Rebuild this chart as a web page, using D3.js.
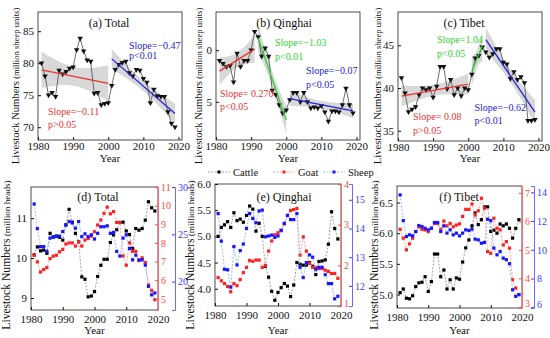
<!DOCTYPE html>
<html>
<head>
<meta charset="utf-8">
<script src="https://cdn.jsdelivr.net/npm/d3@7/dist/d3.min.js"></script>
<style>
body{margin:0;background:#fff;}
#svg{display:block;font-family:"Liberation Serif","Times New Roman",serif;}
</style>
</head>
<body>
<svg id="svg" width="550" height="338"></svg>
<script>
var years = d3.range(1981, 2020);
var yearTicks = [1980, 1990, 2000, 2010, 2020];

// (a)-(c) livestock, million sheep units
var totalSU = [80.0,78.0,75.0,75.4,74.8,78.9,78.3,78.7,79.2,79.4,82.1,83.9,81.9,80.5,80.3,75.3,75.4,73.5,73.7,73.8,
	76.5,79.0,79.8,80.1,80.3,78.5,78.0,79.0,78.9,77.6,77.0,73.8,75.9,74.9,74.8,74.8,72.4,70.6,70.0];
var qinghaiSU = [39.0,38.7,38.4,38.5,36.9,39.7,38.4,39.0,39.0,40.0,41.8,41.3,39.4,40.2,39.4,36.1,35.7,34.7,33.9,34.2,
	35.2,35.9,35.9,35.0,35.9,35.0,34.4,34.5,34.4,34.6,34.0,33.1,34.1,34.1,34.0,34.7,36.3,34.7,33.9];
var tibetSU = [41.2,39.4,37.2,37.5,37.8,39.2,40.0,39.8,40.0,38.9,40.2,42.5,42.5,39.9,41.0,39.2,40.0,39.1,40.0,39.8,
	41.6,43.5,43.8,44.8,44.2,43.6,44.0,44.6,44.6,43.0,42.8,41.1,41.9,41.0,41.3,40.6,36.2,36.2,36.3];

// fitted periods [first year, last year] and their labels
var periodsA = [[1981, 2000], [2001, 2019]];
var periodsB = [[1981, 1991], [1992, 2000], [2001, 2019]];
var periodsC = [[1981, 2000], [2001, 2004], [2005, 2019]];
var slopeA = [["Slope=\u22120.11", "p>0.05"], ["Slope=\u22120.47", "p<0.01"]];
var slopeB = [["Slope= 0.270", "p<0.05"], ["Slope=\u22121.03", "p<0.01"], ["Slope=\u22120.07", "p<0.05"]];
var slopeC = [["Slope= 0.08", "p>0.05"], ["Slope=1.04", "p<0.05"], ["Slope=\u22120.62", "p<0.01"]];

// (d)-(f) million heads
var species = ["Cattle", "Goat", "Sheep"];
var cattleTotal = [10.08,10.28,10.18,10.2,10.12,10.62,10.53,10.55,10.52,10.45,10.83,11.22,10.9,10.62,10.41,9.53,9.47,9.03,9.05,9.16,
	9.54,9.82,9.97,9.97,10.39,10.58,10.71,10.89,10.9,10.68,10.59,10.24,10.74,10.7,10.74,10.95,11.41,11.26,11.18];
var goatTotal = [7.34,6.98,6.44,6.57,6.68,7.16,7.29,7.34,7.52,7.65,7.94,8.0,8.0,7.83,8.06,7.83,8.15,8.24,8.37,8.6,
	8.96,9.23,9.59,9.92,9.56,9.68,9.1,9.1,7.3,6.8,8.0,7.55,7.55,7.05,7.2,6.95,5.75,5.45,4.95];
var sheepTotal = [28.2,25.6,23.7,23.7,23.2,24.6,24.7,24.8,24.8,25.3,26.0,26.35,26.2,25.65,26.35,24.75,25.05,24.75,24.95,24.5,
	25.1,25.8,25.8,25.9,25.1,25.2,23.2,22.7,24.6,24.95,23.5,22.3,22.8,22.3,22.3,21.75,19.5,18.6,18.8];
var cattleQH = [5.0,5.17,5.22,5.28,5.17,5.45,5.3,5.33,5.27,5.4,5.58,5.52,5.1,5.25,5.0,4.43,4.22,3.95,3.78,3.93,
	4.02,4.1,4.05,3.85,4.07,4.5,4.47,4.45,4.45,4.5,4.43,4.27,4.52,4.53,4.55,4.85,5.47,5.15,4.95];
var goatQH = [1.7,1.62,1.55,1.48,1.35,1.55,1.5,1.65,1.82,1.95,2.12,2.1,2.13,2.13,1.95,2.0,2.35,2.6,2.75,2.8,
	2.85,3.02,3.22,3.35,3.37,3.4,2.25,2.7,2.35,2.05,1.95,1.95,1.92,1.92,1.88,1.85,1.8,1.8,1.68];
var sheepQH = [14.52,13.56,12.58,12.56,11.96,13.37,12.73,13.23,13.46,14.0,14.52,14.35,14.2,14.61,14.64,13.71,13.74,13.77,13.69,13.74,
	13.94,14.18,14.46,14.31,14.31,14.52,12.65,12.29,12.81,13.08,13.0,12.58,12.65,12.65,12.39,12.08,12.08,11.55,11.64];
var cattleTB = [5.03,5.09,4.94,4.93,4.98,5.13,5.19,5.2,5.29,5.05,5.21,5.66,5.66,5.29,5.4,5.09,5.24,5.09,5.27,5.25,
	5.53,5.76,5.89,6.12,6.33,6.14,6.22,6.43,6.43,6.03,6.05,6.0,6.15,6.12,6.15,6.08,5.92,6.08,6.22];
var goatTB = [5.72,5.41,5.0,5.21,5.41,5.64,5.81,5.72,5.7,5.64,5.76,5.93,5.93,5.72,6.01,5.84,5.93,5.81,5.87,5.91,
	6.17,6.42,6.42,6.61,6.22,6.37,6.81,6.46,4.94,4.88,6.11,5.76,5.7,5.17,5.29,5.06,3.95,3.66,3.43];
var sheepTB = [13.82,12.03,10.92,11.04,10.97,11.27,11.69,11.62,11.5,11.39,11.5,11.9,11.9,11.27,11.67,11.16,11.39,11.04,11.16,10.97,
	11.16,11.39,11.34,11.44,10.74,10.69,10.46,10.51,12.13,12.03,10.12,9.65,9.88,9.42,9.31,9.03,7.22,6.76,6.88];

// two-sided 95% t values by degrees of freedom
var tCrit = {2: 4.303, 7: 2.365, 9: 2.262, 13: 2.160, 17: 2.110, 18: 2.101};

var svg = d3.select("#svg");
var RED = "#ec3232", GREEN = "#2fd12f", BLUE = "#2323d8";
var lineCols = ["#8a8a8a", "#ff8c8c", "#86a8ff"], dotCols = ["#000", "#ff2020", "#1515ff"];

function fit(xs, ys){
	var n = xs.length, mx = d3.mean(xs), my = d3.mean(ys);
	var sxx = d3.sum(xs, function(x){ return (x-mx)*(x-mx); });
	var sxy = d3.sum(xs, function(x,i){ return (x-mx)*(ys[i]-my); });
	var b = sxy/sxx, a = my - b*mx;
	var sse = d3.sum(xs, function(x,i){ var r = ys[i]-(a+b*x); return r*r; });
	var s = Math.sqrt(sse/(n-2)), t = tCrit[n-2];
	return {
		at: function(x){ return a + b*x; },
		half: function(x){ return t*s*Math.sqrt(1/n + (x-mx)*(x-mx)/sxx); }
	};
}

function styleAxis(a, size, col){
	a.attr("font-family", null).attr("font-size", size);
	a.selectAll("text").attr("fill", col || "#111");
	a.selectAll("line").attr("stroke", col || "#111");
}

function yTitle(x, y, unit, big, small){
	var t = svg.append("text").attr("transform", "translate("+x+","+y+") rotate(-90)")
		.attr("text-anchor", "middle").attr("fill", "#111");
	t.append("tspan").attr("font-size", big).text("Livestock Numbers");
	t.append("tspan").attr("font-size", small).text(" ("+unit+")");
}

function trendPanel(id, p){
	var g = svg.append("g");
	var x = d3.scaleLinear().domain([1980, 2021]).range([p.x0, p.x1]);
	var y = d3.scaleLinear().domain(p.yDom).range([p.y1, p.y0]);
	g.append("clipPath").attr("id", id).append("rect")
		.attr("x", p.x0).attr("y", p.y0).attr("width", p.x1-p.x0).attr("height", p.y1-p.y0);
	var plot = g.append("g").attr("clip-path", "url(#"+id+")");

	var fits = p.periods.map(function(per){
		var xs = years.filter(function(yr){ return yr >= per[0] && yr <= per[1]; });
		var ys = xs.map(function(yr){ return p.values[years.indexOf(yr)]; });
		return fit(xs, ys);
	});
	p.periods.forEach(function(per, k){
		var f = fits[k], grid = d3.range(per[0], per[1]+0.001, 0.25);
		plot.append("path").datum(grid).attr("fill", "#d8d8d8")
			.attr("d", d3.area().x(function(d){ return x(d); })
				.y0(function(d){ return y(f.at(d)-f.half(d)); })
				.y1(function(d){ return y(f.at(d)+f.half(d)); }));
	});
	plot.append("path").datum(p.values).attr("fill", "none").attr("stroke", "#4a4a4a").attr("stroke-width", 0.8)
		.attr("d", d3.line().x(function(d,i){ return x(years[i]); }).y(function(d){ return y(d); }));
	plot.selectAll(".tri").data(p.values).enter().append("path")
		.attr("d", d3.symbol().type(d3.symbolTriangle).size(13))
		.attr("transform", function(d,i){ return "translate("+x(years[i])+","+y(d)+") rotate(180)"; })
		.attr("fill", "#111");
	p.periods.forEach(function(per, k){
		var f = fits[k];
		plot.append("line").attr("x1", x(per[0])).attr("x2", x(per[1]))
			.attr("y1", y(f.at(per[0]))).attr("y2", y(f.at(per[1])))
			.attr("stroke", p.colors[k]).attr("stroke-width", 1.3);
	});

	var ax = g.append("g").attr("transform", "translate(0,"+p.y1+")")
		.call(d3.axisBottom(x).tickValues(yearTicks).tickFormat(d3.format("d")).tickSize(-3).tickPadding(2));
	var ay = g.append("g").attr("transform", "translate("+p.x0+",0)")
		.call(d3.axisLeft(y).tickValues(p.yTicks).tickFormat(p.fmt).tickSize(-3).tickPadding(4));
	ax.select(".domain").remove(); ay.select(".domain").remove();
	styleAxis(ax, 11); styleAxis(ay, 11);
	g.append("rect").attr("x", p.x0).attr("y", p.y0).attr("width", p.x1-p.x0).attr("height", p.y1-p.y0)
		.attr("fill", "none").attr("stroke", "#222").attr("stroke-width", 0.8);

	g.append("text").attr("x", p.titleCx).attr("y", 27).attr("text-anchor", "middle")
		.attr("font-size", 12).attr("fill", "#111").text(p.title);
	p.labels.forEach(function(lb, k){
		var pos = p.labelPos[k];
		g.append("text").attr("x", pos[0]).attr("y", pos[1]).attr("font-size", 10).attr("fill", p.colors[k]).text(lb[0]);
		g.append("text").attr("x", pos[0]).attr("y", pos[2]).attr("font-size", 10).attr("fill", p.colors[k]).text(lb[1]);
	});
	g.append("text").attr("x", (p.x0+p.x1)/2).attr("y", 162).attr("text-anchor", "middle")
		.attr("font-size", 11).attr("fill", "#111").text("Year");
	yTitle(p.titleX, 86, "million sheep units", 10.6, 8.6);
}

function speciesPanel(id, p){
	var g = svg.append("g");
	var x = d3.scaleLinear().domain([1980, 2020]).range([p.x0, p.x1]);
	var scales = [p.dom[0], p.dom[1], p.dom[2]].map(function(dm){
		return d3.scaleLinear().domain(dm).range([p.y1, p.y0]);
	});
	var series = [p.cattle, p.goat, p.sheep];
	series.forEach(function(vals, k){
		var y = scales[k];
		g.append("path").datum(vals).attr("fill", "none").attr("stroke", lineCols[k]).attr("stroke-width", 0.8)
			.attr("stroke-dasharray", "2,1.5")
			.attr("d", d3.line().x(function(d,i){ return x(years[i]); }).y(function(d){ return y(d); }));
		g.selectAll(".sq"+k).data(vals).enter().append("rect")
			.attr("x", function(d,i){ return x(years[i])-1.6; }).attr("y", function(d){ return y(d)-1.6; })
			.attr("width", 3.2).attr("height", 3.2).attr("fill", dotCols[k]);
	});

	var ax = g.append("g").attr("transform", "translate(0,"+p.y1+")")
		.call(d3.axisBottom(x).tickValues(yearTicks).tickFormat(d3.format("d")).tickSize(-3).tickPadding(5));
	var aL = g.append("g").attr("transform", "translate("+p.x0+",0)")
		.call(d3.axisLeft(scales[0]).tickValues(p.ticks[0]).tickFormat(p.fmt).tickSize(-3).tickPadding(4));
	ax.select(".domain").remove(); aL.select(".domain").remove();
	styleAxis(ax, 11); styleAxis(aL, 11);
	g.append("rect").attr("x", p.x0).attr("y", p.y0).attr("width", p.x1-p.x0).attr("height", p.y1-p.y0)
		.attr("fill", "none").attr("stroke", "#222").attr("stroke-width", 0.8);
	var aR = g.append("g").attr("transform", "translate("+p.x1+",0)")
		.call(d3.axisRight(scales[1]).tickValues(p.ticks[1]).tickFormat(d3.format("d")).tickSize(-3).tickPadding(3));
	var aB = g.append("g").attr("transform", "translate("+p.blueX+",0)")
		.call(d3.axisRight(scales[2]).tickValues(p.ticks[2]).tickFormat(d3.format("d")).tickSize(-3).tickPadding(3));
	styleAxis(aR, 10, "#ff4a4a"); styleAxis(aB, 10, "#3a3aff");
	aR.select(".domain").attr("stroke", "#ff6a6a").attr("stroke-width", 1);
	aB.select(".domain").attr("stroke", "#6a6aff").attr("stroke-width", 1);
	// a right-axis label sitting on the bottom corner is lifted clear of the year labels
	[[aR, scales[1]], [aB, scales[2]]].forEach(function(pair){
		pair[0].selectAll(".tick text").filter(function(d){ return pair[1](d) > p.y1 - 4; }).attr("dy", "0");
	});

	g.append("text").attr("x", p.titleCx).attr("y", 201).attr("text-anchor", "middle")
		.attr("font-size", 12).attr("fill", "#111").text(p.title);
	g.append("text").attr("x", (p.x0+p.x1)/2).attr("y", 334).attr("text-anchor", "middle")
		.attr("font-size", 11).attr("fill", "#111").text("Year");
	yTitle(p.titleX, 255, "million heads", 11.6, 9.2);
}

trendPanel("clipA", {x0: 38, x1: 182, y0: 12, y1: 140, yDom: [68, 88], yTicks: [70, 75, 80, 85],
	fmt: d3.format("d"), values: totalSU, periods: periodsA, colors: [RED, BLUE], labels: slopeA,
	labelPos: [[48, 114.5, 127.5], [129, 49, 59]], title: "(a) Total", titleCx: 109, titleX: 19});
// leading digit of 35 / 40 is hidden behind the axis title in the source figure
trendPanel("clipB", {x0: 216, x1: 360, y0: 12, y1: 140, yDom: [31.3, 43.7], yTicks: [35, 40],
	fmt: function(d){ return d % 10; }, values: qinghaiSU, periods: periodsB, colors: [RED, GREEN, BLUE], labels: slopeB,
	labelPos: [[220, 96.5, 109.5], [275, 46, 60], [306, 74, 88]], title: "(b) Qinghai", titleCx: 284, titleX: 202});
trendPanel("clipC", {x0: 398, x1: 542, y0: 12, y1: 141, yDom: [33.8, 48.9], yTicks: [35, 40, 45],
	fmt: d3.format("d"), values: tibetSU, periods: periodsC, colors: [RED, GREEN, BLUE], labels: slopeC,
	labelPos: [[413, 120, 133.5], [437, 43, 57], [474.5, 111, 123.5]], title: "(c) Tibet", titleCx: 464, titleX: 381});

speciesPanel("d", {x0: 31, x1: 158, y0: 187, y1: 310, blueX: 175,
	dom: [[8.7, 11.78], [4.4, 11], [17, 30]], ticks: [[9, 10, 11], [5, 6, 7, 8, 9, 10, 11], [20, 25, 30]],
	fmt: d3.format("d"), cattle: cattleTotal, goat: goatTotal, sheep: sheepTotal, title: "(d) Total", titleCx: 98, titleX: 10});
speciesPanel("e", {x0: 215, x1: 341, y0: 184, y1: 306, blueX: 352,
	dom: [[3.67, 6.0], [1, 4], [11.3, 15.55]], ticks: [[4, 4.5, 5, 5.5, 6], [1, 2, 3, 4], [12, 13, 14, 15]],
	fmt: d3.format(".1f"), cattle: cattleQH, goat: goatQH, sheep: sheepQH, title: "(e) Qinghai", titleCx: 284, titleX: 194});
speciesPanel("f", {x0: 397, x1: 522, y0: 186, y1: 308, blueX: 534,
	dom: [[4.78, 6.77], [2.96, 7.24], [5.95, 14.44]], ticks: [[5, 5.5, 6, 6.5], [3, 4, 5, 6, 7], [6, 8, 10, 12, 14]],
	fmt: d3.format(".1f"), cattle: cattleTB, goat: goatTB, sheep: sheepTB, title: "(f) Tibet", titleCx: 459, titleX: 378});

// legend between the rows
var legendX = [208, 273, 323];
species.forEach(function(name, k){
	var lx = legendX[k];
	svg.append("line").attr("x1", lx).attr("x2", lx+22).attr("y1", 172).attr("y2", 172)
		.attr("stroke", lineCols[k]).attr("stroke-width", 0.8).attr("stroke-dasharray", "2,1.5");
	svg.append("rect").attr("x", lx+9.5).attr("y", 170.5).attr("width", 3).attr("height", 3).attr("fill", dotCols[k]);
	svg.append("text").attr("x", lx+25).attr("y", 175.5).attr("font-size", 10.5).attr("fill", "#111").text(name);
});
</script>
</body>
</html>
